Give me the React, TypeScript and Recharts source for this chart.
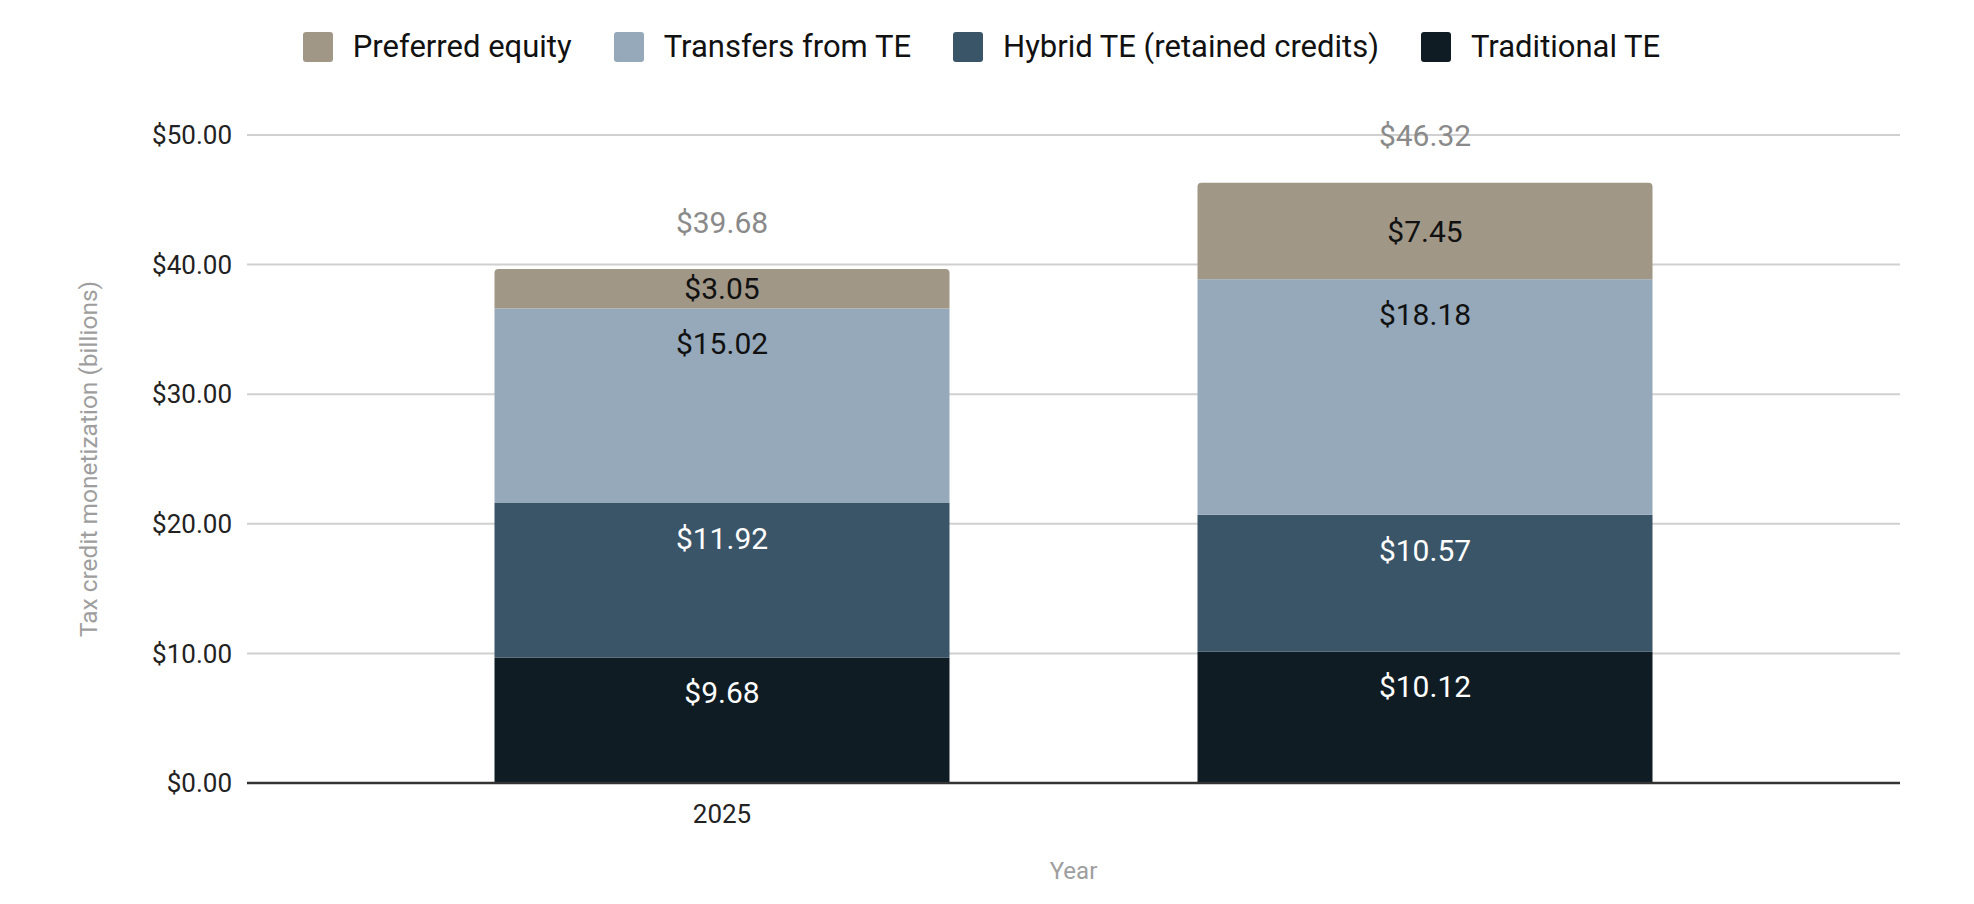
import React from 'react';
import { BarChart, Bar, XAxis, YAxis, CartesianGrid, Legend, LabelList } from 'recharts';

// ---- data ----
const years = ['2025', ''];
const traditionalTE = [9.68, 10.12];
const hybridTE = [11.92, 10.57];
const transfersFromTE = [15.02, 18.18];
const preferredEquity = [3.05, 7.45];
const totals = [39.68, 46.32];
const yTicks = [0, 10, 20, 30, 40, 50];

const seriesNames = {
  preferred: 'Preferred equity',
  transfers: 'Transfers from TE',
  hybrid: 'Hybrid TE (retained credits)',
  traditional: 'Traditional TE',
};

const colors = {
  preferred: '#a09787',
  transfers: '#95a9ba',
  hybrid: '#3a5468',
  traditional: '#101c24',
};

const data = years.map((year, i) => ({
  year,
  traditional: traditionalTE[i],
  hybrid: hybridTE[i],
  transfers: transfersFromTE[i],
  preferred: preferredEquity[i],
  total: totals[i],
}));

const FONT = 'Roboto, "Noto Sans", sans-serif';
const money = (v: number) => `$${v.toFixed(2)}`;

const makeLabel = (fill: string, mode: 'top' | 'center' | 'above') => (props: any) => {
  const { x, y, width, height, value } = props;
  const cx = Number(x) + Number(width) / 2;
  let cy: number;
  if (mode === 'center') cy = Number(y) + Number(height) / 2;
  else if (mode === 'top') cy = Number(y) + 35;
  else cy = Number(y) - 47;
  return (
    <text
      x={cx}
      y={cy}
      dy="0.355em"
      fill={fill}
      textAnchor="middle"
      fontSize={30}
      fontFamily={FONT}
    >
      {money(Number(value))}
    </text>
  );
};

const legendOrder: Array<keyof typeof seriesNames> = ['preferred', 'transfers', 'hybrid', 'traditional'];

const renderLegend = () => (
  <div
    style={{
      display: 'flex',
      justifyContent: 'center',
      alignItems: 'center',
      fontFamily: FONT,
      fontSize: 31,
      color: '#111',
      height: 30,
    }}
  >
    {legendOrder.map((k, i) => (
      <div key={k} style={{ display: 'flex', alignItems: 'center', marginLeft: i ? 42 : 0 }}>
        <div
          style={{
            width: 30,
            height: 30,
            borderRadius: 3,
            background: colors[k],
            marginRight: 20,
          }}
        />
        <span style={{ lineHeight: '30px', whiteSpace: 'nowrap' }}>{seriesNames[k]}</span>
      </div>
    ))}
  </div>
);

export default function App() {
  return (
    <div style={{ position: 'absolute', left: 0, top: 0, width: 1974, height: 904, background: '#fff', fontFamily: FONT }}>
      <BarChart
        width={1974}
        height={904}
        data={data}
        margin={{ top: 135, right: 74, bottom: 0, left: 0 }}
      >
        <CartesianGrid horizontal vertical={false} stroke="#d0d0d0" strokeWidth={2} />
        <XAxis
          dataKey="year"
          height={121}
          padding={{ left: 123.5, right: 123.5 }}
          tickLine={false}
          axisLine={{ stroke: '#333', strokeWidth: 2.5 }}
          tickMargin={16}
          tick={{ fontSize: 26, fill: '#222', fontFamily: FONT }}
          label={{
            value: 'Year',
            position: 'insideBottom',
            offset: 25,
            fill: '#9e9e9e',
            fontSize: 24,
            fontFamily: FONT,
          }}
        />
        <YAxis
          width={247}
          domain={[0, 50]}
          ticks={yTicks}
          interval={0}
          tickFormatter={money}
          tickLine={false}
          axisLine={false}
          tickMargin={9}
          tick={{ fontSize: 26, fill: '#222', fontFamily: FONT }}
          label={{
            value: 'Tax credit monetization (billions)',
            angle: -90,
            position: 'insideLeft',
            offset: 88,
            fill: '#9e9e9e',
            fontSize: 24.5,
            fontFamily: FONT,
            style: { textAnchor: 'middle' },
          }}
        />
        <Legend
          verticalAlign="middle"
          align="center"
          layout="horizontal"
          content={renderLegend}
          wrapperStyle={{ top: 32, left: 0, width: 1963, height: 30 }}
        />
        <Bar dataKey="traditional" name={seriesNames.traditional} stackId="a" fill={colors.traditional} barSize={455} isAnimationActive={false}>
          <LabelList dataKey="traditional" content={makeLabel('#ffffff', 'top')} />
        </Bar>
        <Bar dataKey="hybrid" name={seriesNames.hybrid} stackId="a" fill={colors.hybrid} barSize={455} isAnimationActive={false}>
          <LabelList dataKey="hybrid" content={makeLabel('#ffffff', 'top')} />
        </Bar>
        <Bar dataKey="transfers" name={seriesNames.transfers} stackId="a" fill={colors.transfers} barSize={455} isAnimationActive={false}>
          <LabelList dataKey="transfers" content={makeLabel('#111111', 'top')} />
        </Bar>
        <Bar dataKey="preferred" name={seriesNames.preferred} stackId="a" fill={colors.preferred} barSize={455} radius={[4, 4, 0, 0]} isAnimationActive={false}>
          <LabelList dataKey="preferred" content={makeLabel('#111111', 'center')} />
          <LabelList dataKey="total" content={makeLabel('#8a8a8a', 'above')} />
        </Bar>
      </BarChart>
    </div>
  );
}
